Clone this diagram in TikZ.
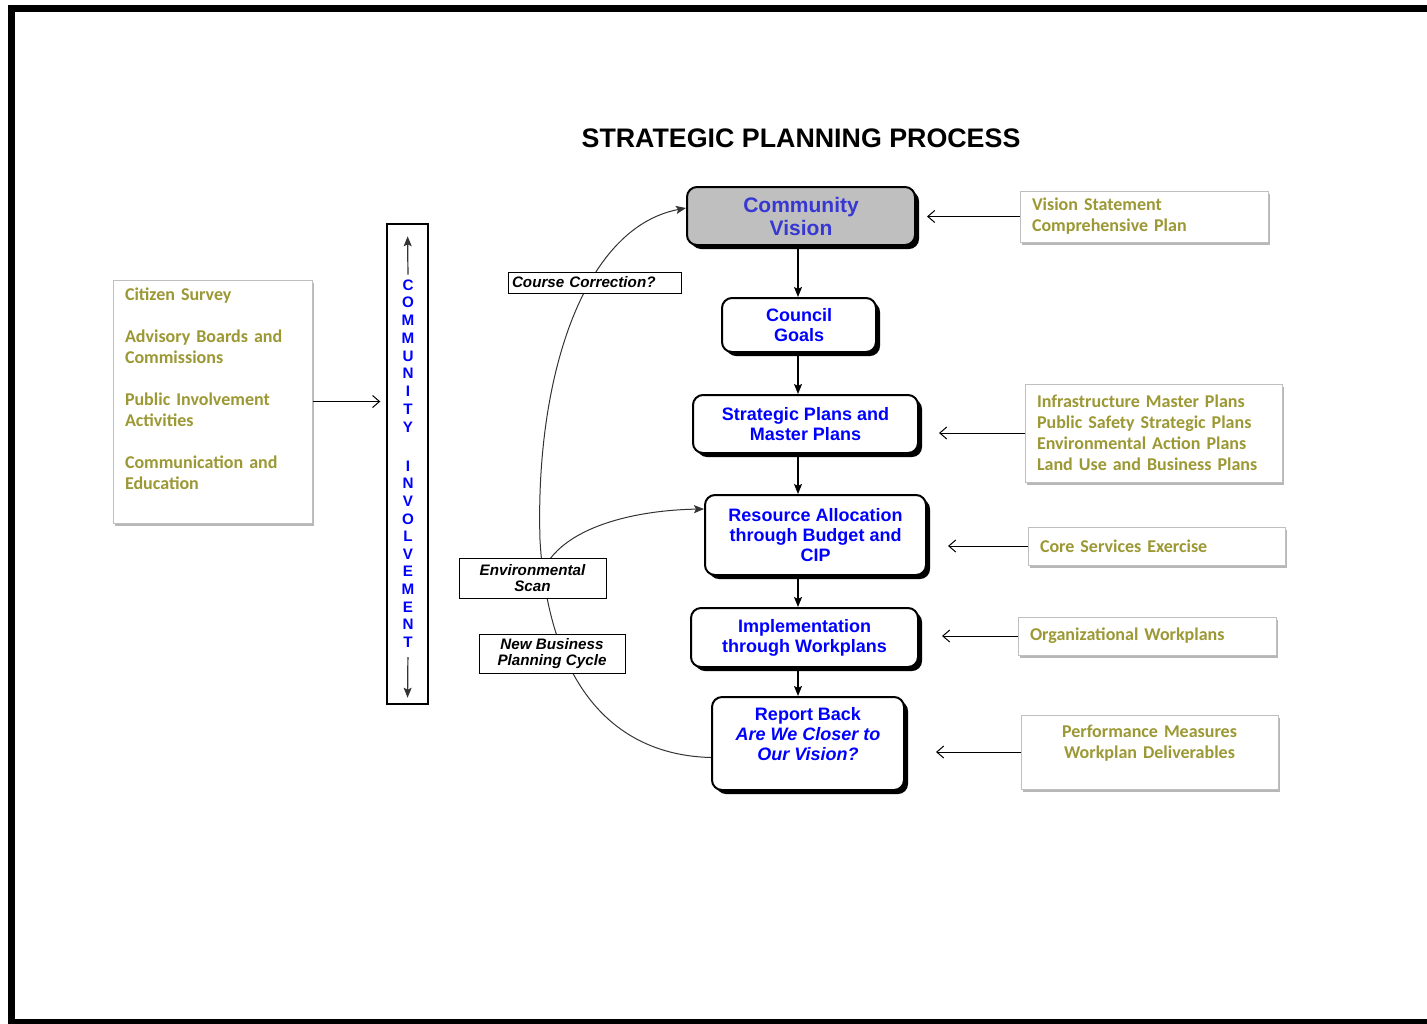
\documentclass[tikz,border=0pt]{standalone}
\usepackage{fontspec}
\setmainfont{Liberation Sans}
\newfontfamily\calibri{Carlito}
\usepackage{xcolor}
\usetikzlibrary{arrows.meta,shadows}

\definecolor{plantext}{RGB}{156,152,52}
\definecolor{visionblue}{RGB}{55,55,210}

\begin{document}
\begin{tikzpicture}[x=0.5pt,y=-0.5pt,>={Stealth[length=5pt,width=4pt,inset=1pt]},
    main node/.style={draw,line width=1pt,rounded corners=5pt,fill=white,
      drop shadow={shadow xshift=2pt,shadow yshift=-2pt,fill=black,opacity=1},
      text=blue,align=center,inner sep=0pt,font=\bfseries\fontsize{9}{10}\selectfont},
    side node/.style={draw=black!25,line width=0.5pt,fill=white,
      drop shadow={shadow xshift=1pt,shadow yshift=-1.5pt,fill=black!40,opacity=.7},
      text=plantext,inner xsep=6pt,inner ysep=0pt,
      font=\calibri\bfseries\fontsize{9}{10.5}\selectfont},
    tag node/.style={draw,line width=0.5pt,fill=white,align=center,inner sep=0pt,
      font=\bfseries\itshape\fontsize{7.6}{8.2}\selectfont},
    letter/.style={text=blue,inner sep=0pt,font=\bfseries\fontsize{7.6}{8}\selectfont},
    flow arrow/.style={->,line width=0.7pt},
    feed/.style={-{Straight Barb[length=3.5pt,width=6pt]},line width=0.5pt},
    loop line/.style={->,line width=0.5pt,black!80}]

  \useasboundingbox (0,0) rectangle (1427,1023);

  % page frame (open on the right)
  \draw[line width=3.5pt] (1427,8.5) -- (11.5,8.5) -- (11.5,1022.5) -- (1427,1022.5);

  \node[anchor=base,font=\bfseries\fontsize{13.4}{15}\selectfont] (title) at (801,147)
    {STRATEGIC PLANNING PROCESS};

  % the process column
  \node[main node,fill=black!25,text=visionblue,font=\bfseries\fontsize{10.5}{11.5}\selectfont,
        minimum width=114pt,minimum height=29pt] (cv) at (801,216) {Community\\Vision};
  \node[main node,minimum width=77pt,minimum height=27pt] (goals) at (799,325) {Council\\Goals};
  \node[main node,minimum width=112.5pt,minimum height=29pt] (plans) at (805.5,424)
    {Strategic Plans and\\Master Plans};
  \node[main node,minimum width=110.5pt,minimum height=40pt] (budget) at (815.5,535)
    {Resource Allocation\\through Budget and\\CIP};
  \node[main node,minimum width=113.5pt,minimum height=29.5pt] (workplan) at (804.5,637.5)
    {Implementation\\through Workplans};
  \node[main node,minimum width=96pt,minimum height=46.5pt] (report) at (808,743.5)
    {Report Back\\\textit{Are We Closer to}\\\textit{Our Vision?}\\ \mbox{}};

  \coordinate (spine) at (798,0);
  \foreach \a/\b in {cv/goals,goals/plans,plans/budget,budget/workplan,workplan/report}
    \draw[flow arrow] (\a.south -| spine) -- (\b.north -| spine);

  % documents feeding each step
  \node[side node,text width=112pt,align=left,minimum height=25.5pt] (visiondoc) at (1144,216.5)
    {Vision Statement\\Comprehensive Plan};
  \node[side node,text width=116.5pt,align=left,minimum height=49pt] (infra) at (1153.5,433)
    {Infrastructure Master Plans\\Public Safety Strategic Plans\\Environmental Action Plans\\Land Use and Business Plans};
  \node[side node,text width=116.5pt,align=left,minimum height=19pt] (core) at (1156.5,546)
    {Core Services Exercise};
  \node[side node,text width=117pt,align=left,minimum height=19pt] (orgplans) at (1147,636)
    {Organizational Workplans};
  \node[side node,text width=116.5pt,align=center,minimum height=37pt] (measures) at (1149.5,752)
    {Performance Measures\\Workplan Deliverables\\ \mbox{}};

  \draw[feed,shorten >=5.5pt] (visiondoc.west) -- (visiondoc.west -| cv.east);
  \draw[feed,shorten >=10pt] (infra.west) -- (infra.west -| plans.east);
  \draw[feed,shorten >=10.5pt] (core.west) -- (core.west -| budget.east);
  \draw[feed,shorten >=11.5pt] (orgplans.west) -- (orgplans.west -| workplan.east);
  \draw[feed,shorten >=15.5pt] (measures.west) -- (measures.west -| report.east);

  % community involvement
  \node[side node,text width=87.5pt,align=left,minimum height=121.5pt] (inputs) at (212.5,401.5)
    {Citizen Survey\\[10.5pt]
     Advisory Boards and\\Commissions\\[10.5pt]
     Public Involvement\\Activities\\[10.5pt]
     Communication and\\Education\\[2.5pt] \mbox{}};

  \node[draw,line width=0.7pt,minimum width=20.5pt,minimum height=240pt,inner sep=0pt]
    (involve) at (407.5,464) {};
  \foreach \ch [count=\i] in {C,O,M,M,U,N,I,T,Y}
    \node[letter] (up\i) at (408,{285+17.75*(\i-1)}) {\ch};
  \foreach \ch [count=\i] in {I,N,V,O,L,V,E,M,E,N,T}
    \node[letter] (down\i) at (408,{466+17.6*(\i-1)}) {\ch};
  \draw[->,line width=0.6pt,black!80,shorten <=2.25pt,shorten >=6.5pt] (up1.north) -- (involve.north);
  \draw[->,line width=0.6pt,black!80,shorten <=4.75pt,shorten >=3.5pt] (down11.south) -- (involve.south);

  \draw[feed,shorten >=3pt] (inputs.east) -- (inputs.east -| involve.west);

  % feedback loop
  \coordinate (fork) at (541,575);
  \draw[loop line] ([yshift=-7pt]report.west) .. controls (610,755) and (548,680) .. (540,540)
    .. controls (535,380) and (582,228) .. ([yshift=4pt]cv.west);
  \draw[loop line] (fork) .. controls (560,525) and (640,510) .. ([yshift=13pt]budget.west);

  \node[tag node,minimum width=86.5pt,minimum height=10.5pt,text width=82.5pt,align=left]
    (course) at (594.5,282.5) {Course Correction?};
  \node[tag node,minimum width=73.5pt,minimum height=20pt] (scan) at (532.5,578)
    {Environmental\\Scan};
  \node[tag node,minimum width=73pt,minimum height=19.5pt] (newbiz) at (552,653.5)
    {New Business\\Planning Cycle};

\end{tikzpicture}
\end{document}
